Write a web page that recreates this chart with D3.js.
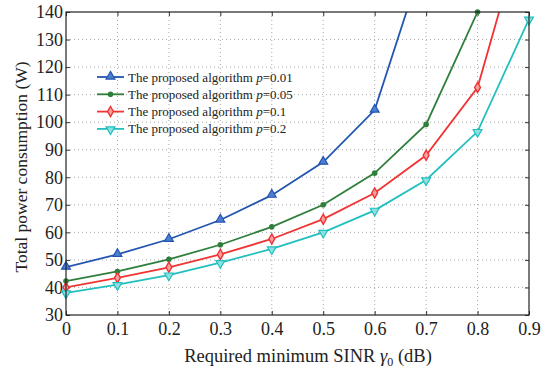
<!DOCTYPE html>
<html>
<head>
<meta charset="utf-8">
<script src="https://cdnjs.cloudflare.com/ajax/libs/d3/7.8.5/d3.min.js"></script>
<style>
  body { margin: 0; background: #fff; }
  svg { font-family: "Liberation Serif", "DejaVu Serif", serif; }
</style>
</head>
<body>
<div id="chart"></div>
<script>
var sinr = [0, 0.1, 0.2, 0.3, 0.4, 0.5, 0.6, 0.7, 0.8, 0.9];
var p001 = [47.4, 52, 57.5, 64.5, 73.5, 85.5, 104.4, 162];
var p005 = [42.3, 45.8, 50.2, 55.5, 62, 70, 81.5, 99.2, 140];
var p01 = [40, 43.5, 47.3, 52, 57.6, 64.8, 74.3, 88, 112.6, 178];
var p02 = [38, 41, 44.5, 49, 54, 60, 68, 79, 96.6, 137.4];
var xTicks = [0, 0.1, 0.2, 0.3, 0.4, 0.5, 0.6, 0.7, 0.8, 0.9];
var yTicks = [30, 40, 50, 60, 70, 80, 90, 100, 110, 120, 130, 140];

var seriesList = [
  { label: "0.01", values: p001, color: "#2356b0", marker: "up" },
  { label: "0.05", values: p005, color: "#2f7f3c", marker: "dot" },
  { label: "0.1", values: p01, color: "#f03434", marker: "diamond" },
  { label: "0.2", values: p02, color: "#22bfbf", marker: "down" }
];

var width = 547;
var height = 374;
var margin = { left: 66, right: 18, top: 12, bottom: 59 };
var innerW = width - margin.left - margin.right;
var innerH = height - margin.top - margin.bottom;

var svg = d3
  .select("#chart")
  .append("svg")
  .attr("width", width)
  .attr("height", height);

var x = d3.scaleLinear().domain([0, 0.9]).range([0, innerW]);
var y = d3.scaleLinear().domain([30, 140]).range([innerH, 0]);

var g = svg
  .append("g")
  .attr("transform", "translate(" + margin.left + "," + margin.top + ")");

// grid
g.append("g")
  .selectAll("line")
  .data(xTicks.slice(1, -1))
  .enter()
  .append("line")
  .attr("x1", function(d) { return x(d); })
  .attr("x2", function(d) { return x(d); })
  .attr("y1", 0)
  .attr("y2", innerH)
  .attr("stroke", "#a8a8a8")
  .attr("stroke-width", 1)
  .attr("stroke-dasharray", "1,3");
g.append("g")
  .selectAll("line")
  .data(yTicks.slice(1, -1))
  .enter()
  .append("line")
  .attr("y1", function(d) { return y(d); })
  .attr("y2", function(d) { return y(d); })
  .attr("x1", 0)
  .attr("x2", innerW)
  .attr("stroke", "#a8a8a8")
  .attr("stroke-width", 1)
  .attr("stroke-dasharray", "1,3");

// axes, ticks pointing inward
var xAxis = g
  .append("g")
  .attr("transform", "translate(0," + innerH + ")")
  .call(d3.axisBottom(x).tickValues(xTicks).tickSize(-4).tickPadding(7).tickFormat(d3.format("")));
var yAxis = g
  .append("g")
  .call(d3.axisLeft(y).tickValues(yTicks).tickSize(-4).tickPadding(3));
g.append("g")
  .call(d3.axisTop(x).tickValues(xTicks).tickSize(-4).tickFormat(""));
g.append("g")
  .attr("transform", "translate(" + innerW + ",0)")
  .call(d3.axisRight(y).tickValues(yTicks).tickSize(-4).tickFormat(""));

g.selectAll(".domain").remove();
g.selectAll(".tick line").attr("stroke", "#333");
xAxis.selectAll("text").attr("font-size", 18).attr("fill", "#222").style("font-family", "Liberation Serif");
yAxis.selectAll("text").attr("font-size", 18).attr("fill", "#222").style("font-family", "Liberation Serif");

g.append("defs")
  .append("clipPath")
  .attr("id", "clip")
  .append("rect")
  .attr("width", innerW)
  .attr("height", innerH);

var line = d3
  .line()
  .x(function(d, i) { return x(sinr[i]); })
  .y(function(d) { return y(d); });

var plot = g.append("g").attr("clip-path", "url(#clip)");

var drawMarker = function(sel, s, cx, cy) {
  if (s.marker === "up") {
    sel.append("path")
      .attr("d", d3.symbol().type(d3.symbolTriangle).size(34)())
      .attr("transform", "translate(" + cx + "," + (cy - 0.5) + ")")
      .attr("fill", "#4d7fd0").attr("stroke", s.color).attr("stroke-width", 1.2);
  } else if (s.marker === "dot") {
    sel.append("circle").attr("cx", cx).attr("cy", cy).attr("r", 2.8).attr("fill", s.color);
  } else if (s.marker === "diamond") {
    sel.append("path")
      .attr("d", d3.symbol().type(d3.symbolDiamond).size(30)())
      .attr("transform", "translate(" + cx + "," + cy + ")")
      .attr("fill", "#f7a0a0").attr("stroke", s.color).attr("stroke-width", 1.4);
  } else {
    sel.append("path")
      .attr("d", d3.symbol().type(d3.symbolTriangle).size(34)())
      .attr("transform", "translate(" + cx + "," + (cy + 0.5) + ") rotate(180)")
      .attr("fill", "#8fe0e0").attr("stroke", s.color).attr("stroke-width", 1.2);
  }
};

seriesList.forEach(function(s) {
  plot.append("path")
    .datum(s.values)
    .attr("fill", "none")
    .attr("stroke", s.color)
    .attr("stroke-width", 1.8)
    .attr("d", line);
  s.values.forEach(function(v, i) {
    if (v <= 140.5) drawMarker(g, s, x(sinr[i]), y(v));
  });
});

// frame
g.append("rect")
  .attr("width", innerW)
  .attr("height", innerH)
  .attr("fill", "none")
  .attr("stroke", "#222")
  .attr("stroke-width", 1.2);

// legend
var legend = g.append("g").attr("transform", "translate(31,65)");
seriesList.forEach(function(s, i) {
  var row = legend.append("g").attr("transform", "translate(0," + i * 17.3 + ")");
  row.append("line").attr("x1", 0).attr("x2", 27).attr("y1", 0).attr("y2", 0)
    .attr("stroke", s.color).attr("stroke-width", 1.8);
  drawMarker(row, s, 13.5, 0);
  var t = row.append("text").attr("x", 31).attr("y", 4.5).attr("font-size", 13).attr("fill", "#222");
  t.append("tspan").text("The proposed algorithm ");
  t.append("tspan").attr("font-style", "italic").text("p");
  t.append("tspan").text("=" + s.label);
});

// axis titles
var xt = svg.append("text")
  .attr("x", 308)
  .attr("y", 362)
  .attr("text-anchor", "middle")
  .attr("font-size", 18.5)
  .attr("fill", "#222");
xt.append("tspan").text("Required minimum SINR ");
xt.append("tspan").attr("font-style", "italic").text("γ");
xt.append("tspan").attr("font-size", 12).attr("dy", 4).text("0");
xt.append("tspan").attr("dy", -4).text(" (dB)");

svg.append("text")
  .attr("transform", "translate(27,167) rotate(-90)")
  .attr("text-anchor", "middle")
  .attr("font-size", 17.5)
  .attr("fill", "#222")
  .text("Total power consumption (W)");
</script>
</body>
</html>
